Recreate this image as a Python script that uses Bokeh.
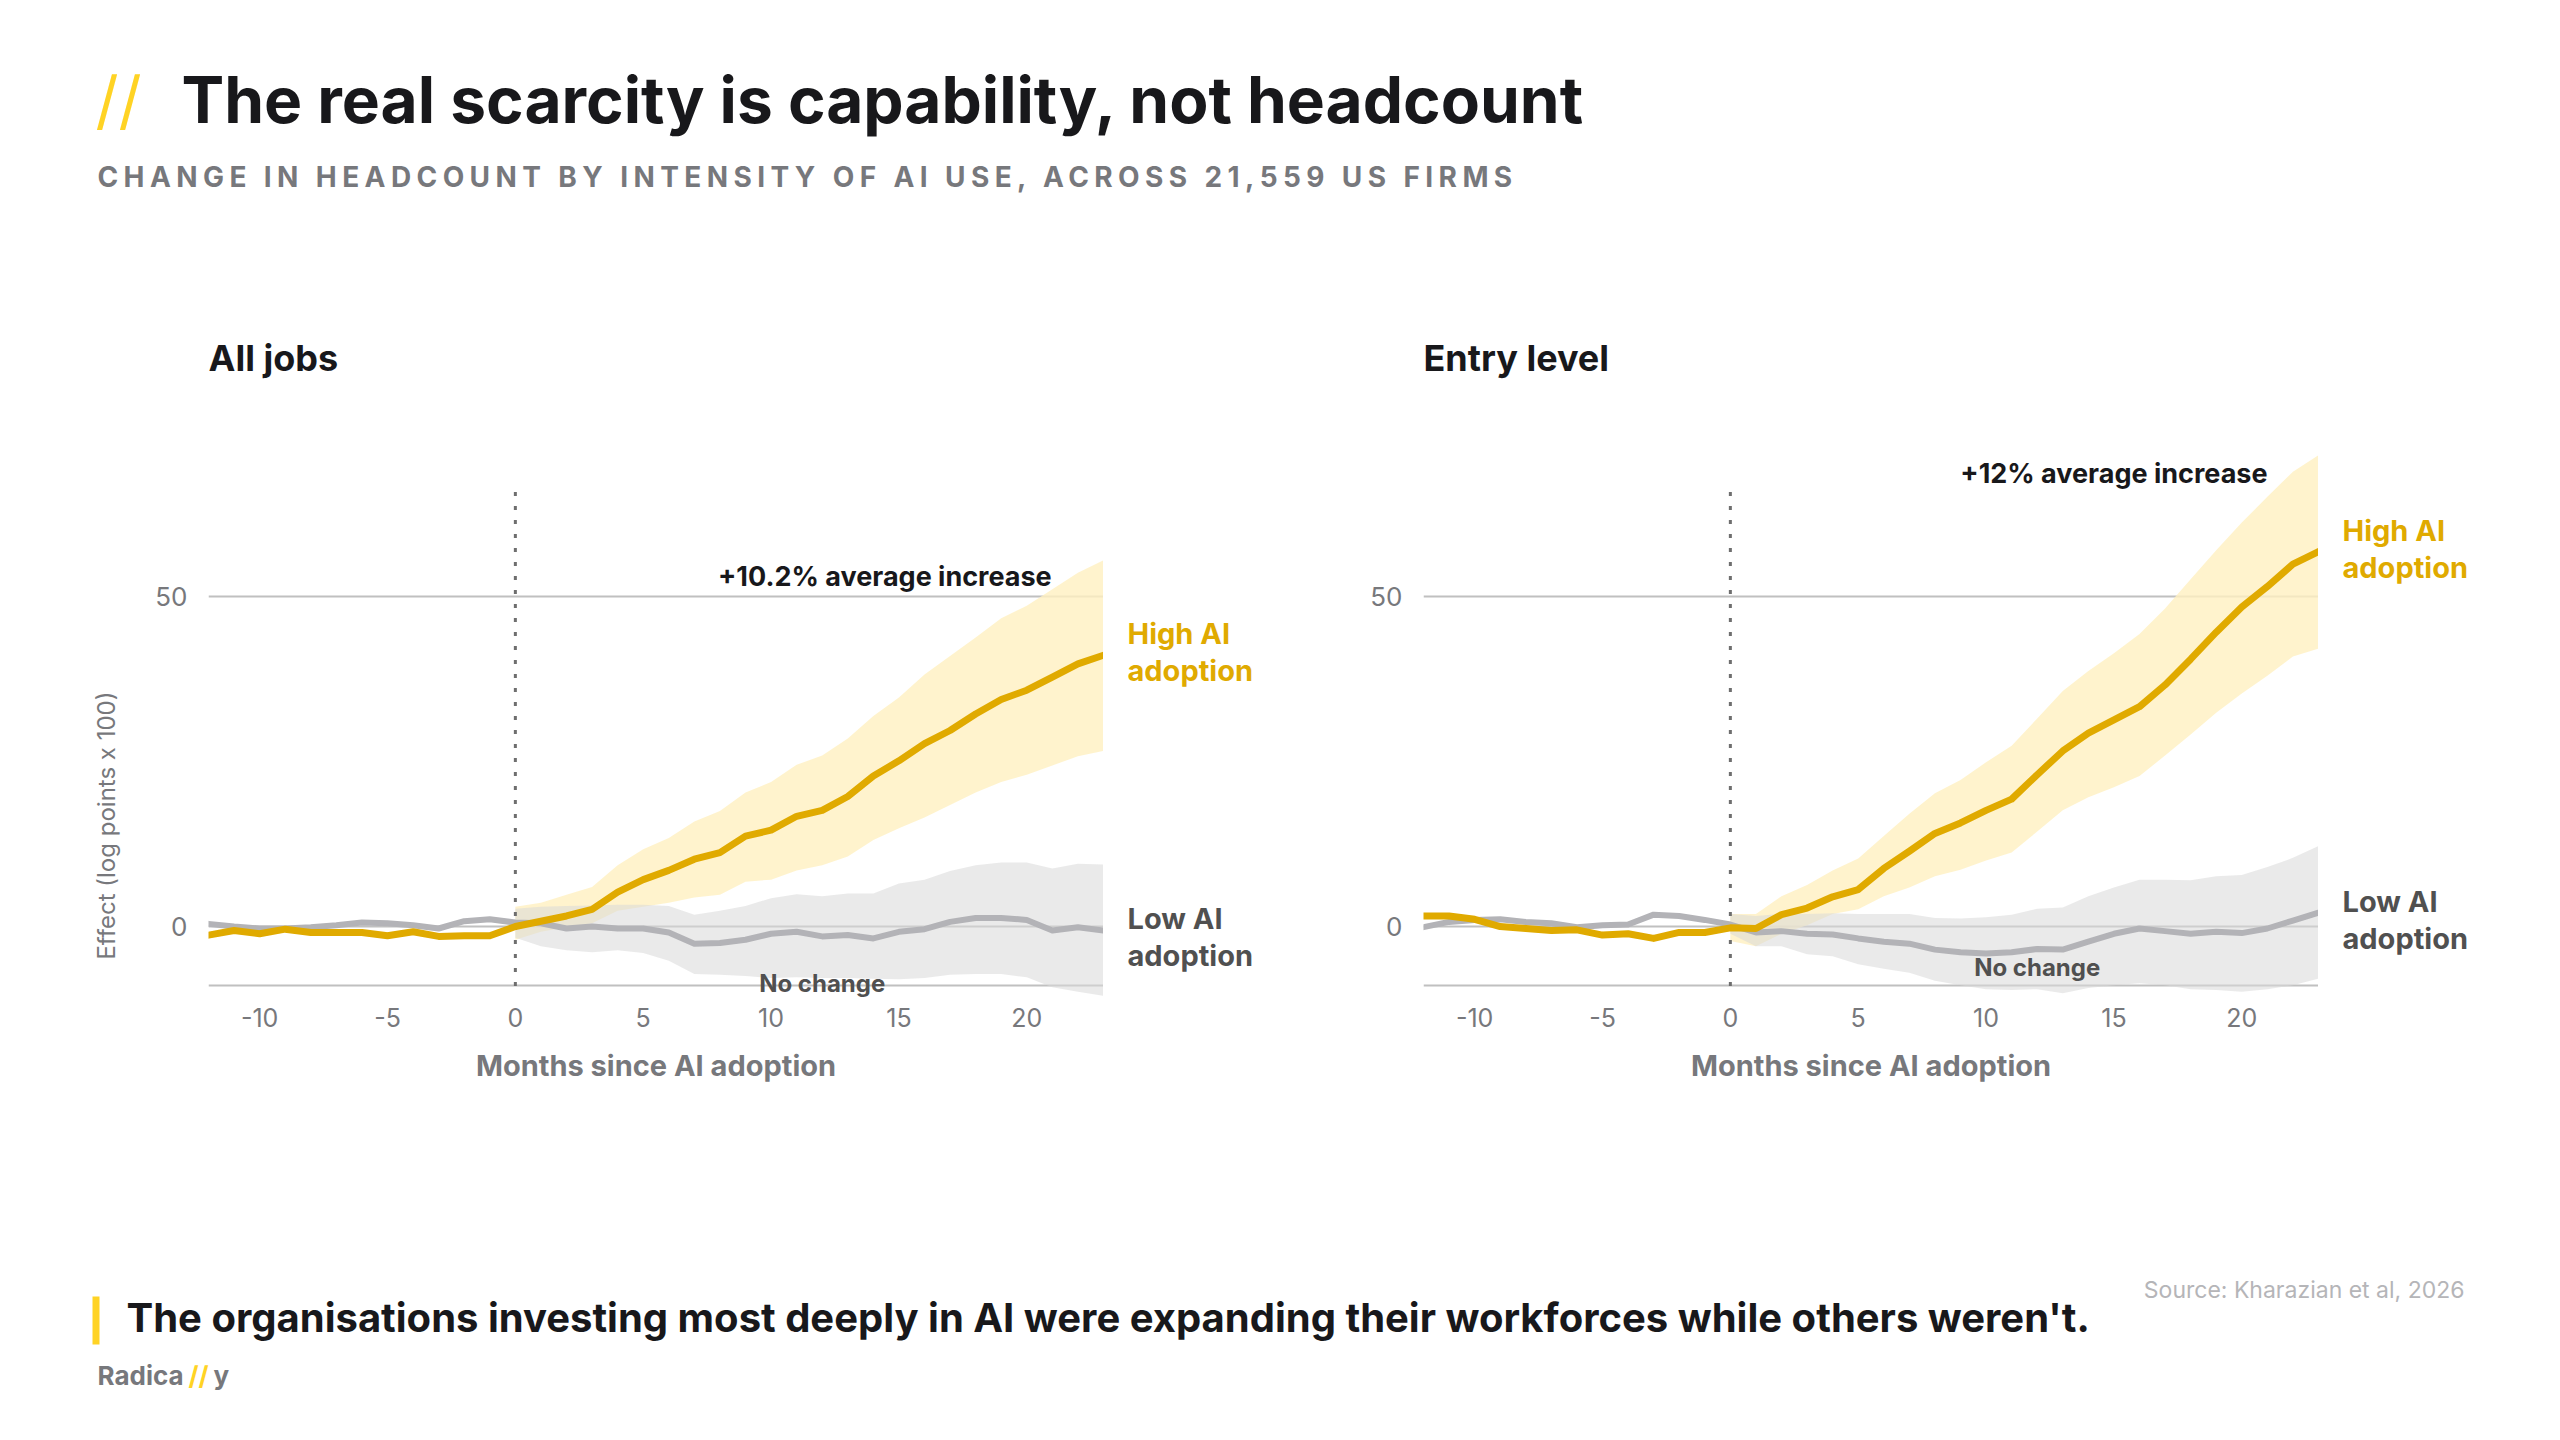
import math
from bokeh.plotting import figure
from bokeh.layouts import column, row
from bokeh.models import Range1d, FixedTicker, InlineStyleSheet
from bokeh.core.properties import value
from bokeh.embed import file_html
from bokeh.resources import INLINE

# ---------------- data ----------------
months = list(range(-12, 24))
band_months = list(range(0, 24))

all_high = [-1.3, -0.6, -1.1, -0.4, -0.9, -0.9, -0.9, -1.4, -0.8, -1.5, -1.4, -1.4,
            0.0, 0.8, 1.6, 2.6, 5.2, 7.1, 8.5, 10.2, 11.2, 13.7, 14.6, 16.7,
            17.6, 19.7, 22.8, 25.1, 27.7, 29.7, 32.2, 34.4, 35.8, 37.8, 39.8, 41.1]
all_high_upper = [3.0, 3.6, 4.8, 6.0, 9.3, 11.7, 13.4, 15.9, 17.5, 20.3, 21.9, 24.5,
                  25.9, 28.5, 31.9, 34.7, 38.2, 41.0, 43.8, 46.7, 48.6, 51.1, 53.6, 55.5]
all_high_lower = [-2.0, -0.8, -0.1, 0.5, 2.4, 3.0, 3.6, 4.4, 4.8, 6.8, 7.1, 8.5,
                  9.3, 10.6, 13.1, 14.9, 16.5, 18.4, 20.3, 21.9, 23.0, 24.4, 25.8, 26.6]
all_low = [0.4, 0.0, -0.3, -0.3, -0.1, 0.2, 0.6, 0.5, 0.2, -0.3, 0.8, 1.1,
           0.6, 0.5, -0.3, 0.0, -0.3, -0.3, -0.9, -2.6, -2.5, -2.0, -1.1, -0.8,
           -1.5, -1.3, -1.8, -0.8, -0.4, 0.7, 1.3, 1.3, 1.0, -0.6, -0.1, -0.6]
all_low_upper = [2.7, 3.0, 3.1, 3.2, 3.3, 3.3, 3.1, 1.8, 2.4, 3.1, 4.3, 4.9,
                 4.6, 5.0, 5.0, 6.5, 7.1, 8.4, 9.3, 9.7, 9.7, 8.8, 9.5, 9.4]
all_low_lower = [-1.7, -3.0, -3.6, -3.9, -3.6, -4.0, -5.2, -7.2, -7.3, -7.5, -7.8, -7.7,
                 -7.8, -7.8, -7.9, -8.0, -7.8, -7.3, -7.2, -7.2, -7.7, -9.2, -9.9, -10.5]

entry_high = [1.6, 1.6, 1.1, 0.0, -0.3, -0.6, -0.5, -1.3, -1.1, -1.8, -0.9, -0.9,
              -0.2, -0.3, 1.8, 2.8, 4.5, 5.6, 8.8, 11.4, 14.1, 15.7, 17.6, 19.3,
              23.0, 26.6, 29.3, 31.3, 33.3, 36.6, 40.5, 44.6, 48.4, 51.5, 54.9, 56.8]
entry_high_upper = [1.9, 1.9, 4.6, 6.3, 8.5, 10.3, 13.7, 17.1, 20.2, 22.2, 24.9, 27.4,
                    31.5, 35.7, 38.7, 41.4, 44.3, 48.2, 52.6, 57.0, 61.2, 65.1, 68.9, 71.4]
entry_high_lower = [-2.2, -3.0, -1.1, 0.2, 1.9, 2.6, 4.6, 5.9, 7.6, 8.6, 10.0, 11.2,
                    14.4, 17.6, 19.6, 21.1, 22.8, 25.9, 29.1, 32.4, 35.3, 38.0, 40.9, 42.1]
entry_low = [-0.1, 0.7, 1.0, 1.1, 0.7, 0.5, -0.1, 0.2, 0.3, 1.8, 1.6, 1.0,
             0.3, -0.9, -0.7, -1.1, -1.2, -1.8, -2.3, -2.6, -3.5, -3.9, -4.1, -3.9,
             -3.4, -3.5, -2.3, -1.1, -0.3, -0.7, -1.1, -0.8, -1.0, -0.3, 0.9, 2.1]
entry_low_upper = [1.9, 1.6, 1.9, 1.9, 2.0, 1.9, 1.9, 1.9, 1.3, 1.2, 1.4, 1.8,
                   2.7, 2.9, 4.6, 5.9, 7.1, 7.1, 7.0, 7.6, 7.8, 9.0, 10.4, 12.2]
entry_low_lower = [-1.1, -3.0, -3.0, -4.2, -4.5, -5.7, -6.4, -7.0, -8.2, -8.9, -9.5, -9.6,
                   -9.5, -10.1, -9.3, -8.9, -8.6, -8.9, -9.5, -9.6, -9.9, -9.5, -8.9, -7.9]

x_ticks = [-10, -5, 0, 5, 10, 15, 20]
y_ticks = [0, 50]
baseline_level = -9
adoption_month = 0

# ---------------- style ----------------
FONT_NAME = "Inter"
FONT = value(FONT_NAME)
YELLOW = "#e0aa00"
YELLOW_BAND = "#fff0c0"
GRAY_LINE = "#b3b3b7"
GRAY_BAND = "#d8d8d8"
AXIS_GRAY = "#77787c"
DARK = "#18181b"
LABEL_DARK = "#505050"
GRID = "#c0c0c0"
SLASH_YELLOW = "#ffd324"
BASE_FIX = 0.4          # baseline correction, in em

Y0, Y1 = -11.36, 93.33  # chart y-range
B_TOP, B_BOT, CH_H = 10, 99, 800
PPU = (CH_H - B_TOP - B_BOT) / (Y1 - Y0)


def blank(f):
    f.grid.visible = False
    f.outline_line_color = None
    f.background_fill_color = "white"
    f.border_fill_color = "white"
    return f


def dtext(f, x, y, t, size, color, style="bold", align="left", baseline="alphabetic",
          angle=0.0, px_shift=0.0):
    """text glyph in a chart-scaled figure; px_shift in pixels upward"""
    fix = BASE_FIX * size if baseline == "alphabetic" else 0.0
    f.text(x=[x], y=[y + (px_shift + fix) / PPU], text=[t], text_font=FONT,
           text_font_size=f"{size}px", text_font_style=style, text_color=color,
           text_align=align, text_baseline=baseline, angle=angle)


def make_chart(title, high, hi_lo, hi_up, low, lo_lo, lo_up, annot, annot_x, annot_y,
               nochange_y, width, b_left, yr):
    p = figure(width=width, height=CH_H, output_backend="svg", toolbar_location=None,
               x_range=Range1d(months[0], months[-1]), y_range=yr,
               min_border_left=b_left, min_border_right=0,
               min_border_top=B_TOP, min_border_bottom=B_BOT)
    blank(p)
    p.ygrid.visible = True
    p.ygrid.ticker = FixedTicker(ticks=[baseline_level] + y_ticks)
    p.ygrid.grid_line_color = GRID
    p.ygrid.grid_line_width = 2

    for ax in (p.xaxis[0], p.yaxis[0]):
        ax.axis_line_color = None
        ax.major_tick_line_color = None
        ax.minor_tick_line_color = None
        ax.major_label_text_font = FONT_NAME
        ax.major_label_text_color = AXIS_GRAY
    p.xaxis.major_label_text_font_size = "25px"
    p.yaxis.major_label_text_font_size = "26px"
    p.xaxis.ticker = FixedTicker(ticks=x_ticks)
    p.xaxis.major_label_overrides = {t: str(t) for t in x_ticks}
    p.yaxis.ticker = FixedTicker(ticks=y_ticks)
    p.xaxis.major_label_standoff = 0
    p.yaxis.major_label_standoff = 15
    p.xaxis.axis_label = "Months since AI adoption"
    p.xaxis.axis_label_text_font = FONT_NAME
    p.xaxis.axis_label_text_font_style = "bold"
    p.xaxis.axis_label_text_font_size = "29px"
    p.xaxis.axis_label_text_color = AXIS_GRAY
    p.xaxis.axis_label_standoff = 18

    # confidence bands
    p.varea(x=band_months, y1=hi_lo, y2=hi_up, fill_color=YELLOW_BAND, fill_alpha=0.8)
    p.varea(x=band_months, y1=lo_lo, y2=lo_up, fill_color=GRAY_BAND, fill_alpha=0.55)
    # adoption marker
    p.segment(x0=[adoption_month], y0=[baseline_level], x1=[adoption_month], y1=[66],
              line_color="#6e6e6e", line_width=3, line_dash="4 10")
    # series
    p.line(months, low, line_color=GRAY_LINE, line_width=6, line_join="round",
           line_cap="round")
    p.line(months, high, line_color=YELLOW, line_width=7, line_join="round",
           line_cap="round")

    dtext(p, annot_x, annot_y, annot, 27, DARK, align="center")
    dtext(p, 12, nochange_y, "No change", 24, LABEL_DARK, align="center")
    dtext(p, months[0], 83.9, title, 36, DARK)
    return p


def side_fig(width, yr, high, low):
    f = blank(figure(width=width, height=CH_H, output_backend="svg", toolbar_location=None,
                     x_range=Range1d(0, width), y_range=yr,
                     x_axis_location=None, y_axis_location=None,
                     min_border_left=0, min_border_right=0,
                     min_border_top=B_TOP, min_border_bottom=B_BOT))
    dtext(f, 24, high[-1], "High AI", 29, YELLOW, px_shift=10)
    dtext(f, 24, high[-1], "adoption", 29, YELLOW, px_shift=-27)
    dtext(f, 24, low[-1], "Low AI", 29, LABEL_DARK, px_shift=0)
    dtext(f, 24, low[-1], "adoption", 29, LABEL_DARK, px_shift=-37)
    return f


yr_left = Range1d(Y0, Y1)
yr_right = Range1d(Y0, Y1)

ylab = blank(figure(width=140, height=CH_H, output_backend="svg", toolbar_location=None,
                    x_range=Range1d(0, 140), y_range=yr_left,
                    x_axis_location=None, y_axis_location=None,
                    min_border_left=0, min_border_right=0,
                    min_border_top=B_TOP, min_border_bottom=B_BOT))
dtext(ylab, 106, 15.3, "Effect (log points x 100)", 24, AXIS_GRAY, style="normal",
      align="center", baseline="middle", angle=math.pi / 2)

left = make_chart("All jobs", all_high, all_high_lower, all_high_upper,
                  all_low, all_low_lower, all_low_upper,
                  "+10.2% average increase", 14.45, 51.4, -10.15, 963, 68, yr_left)
left_side = side_fig(250, yr_left, all_high, all_low)
right = make_chart("Entry level", entry_high, entry_high_lower, entry_high_upper,
                   entry_low, entry_low_lower, entry_low_upper,
                   "+12% average increase", 15.0, 67.0, -7.6, 965, 70, yr_right)
right_side = side_fig(242, yr_right, entry_high, entry_low)


def text_fig(h):
    return blank(figure(width=2560, height=h, output_backend="svg", toolbar_location=None,
                        x_range=Range1d(0, 2560), y_range=Range1d(h, 0),
                        x_axis_location=None, y_axis_location=None,
                        min_border_left=0, min_border_right=0,
                        min_border_top=0, min_border_bottom=0))


def txt(f, x, y, t, size, color, style="bold", align="left"):
    # y is the wanted baseline (pixels from the top of the figure)
    f.text(x=[x], y=[y - BASE_FIX * size], text=[t], text_font=FONT,
           text_font_size=f"{size}px", text_font_style=style, text_color=color,
           text_align=align, text_baseline="alphabetic")


title_fig = text_fig(150)
txt(title_fig, 95, 125, "//", 64, SLASH_YELLOW, style="normal")
txt(title_fig, 181, 125, "The real scarcity is capability, not headcount", 64, DARK)

sub_fig = text_fig(150)
# tracked (letter-spaced) subtitle: letter-spacing is inherited down into the svg text
sub_fig.styles = {"letter-spacing": "5.4px"}
sub_fig.stylesheets = [InlineStyleSheet(css=":host { letter-spacing: 5.4px; } text { letter-spacing: 5.4px; }")]
txt(sub_fig, 97, 38, "CHANGE IN HEADCOUNT BY INTENSITY OF AI USE, ACROSS 21,559 US FIRMS",
    28, AXIS_GRAY)

footer = text_fig(340)
footer.quad(left=[92], right=[99], top=[196], bottom=[244], fill_color=SLASH_YELLOW,
            line_color=None)
txt(footer, 126, 233, "The organisations investing most deeply in AI were expanding their workforces while others weren't.",
    40, DARK)
txt(footer, 2464, 199, "Source: Kharazian et al, 2026", 23, "#b5b5b8", style="normal",
    align="right")
txt(footer, 97, 285, "Radica", 26, AXIS_GRAY)
txt(footer, 188, 285, "//", 26, SLASH_YELLOW)
txt(footer, 213, 285, "y", 26, AXIS_GRAY)

layout = column(title_fig, sub_fig, row(ylab, left, left_side, right, right_side), footer)
open("out.html", "w").write(file_html(layout, INLINE))
